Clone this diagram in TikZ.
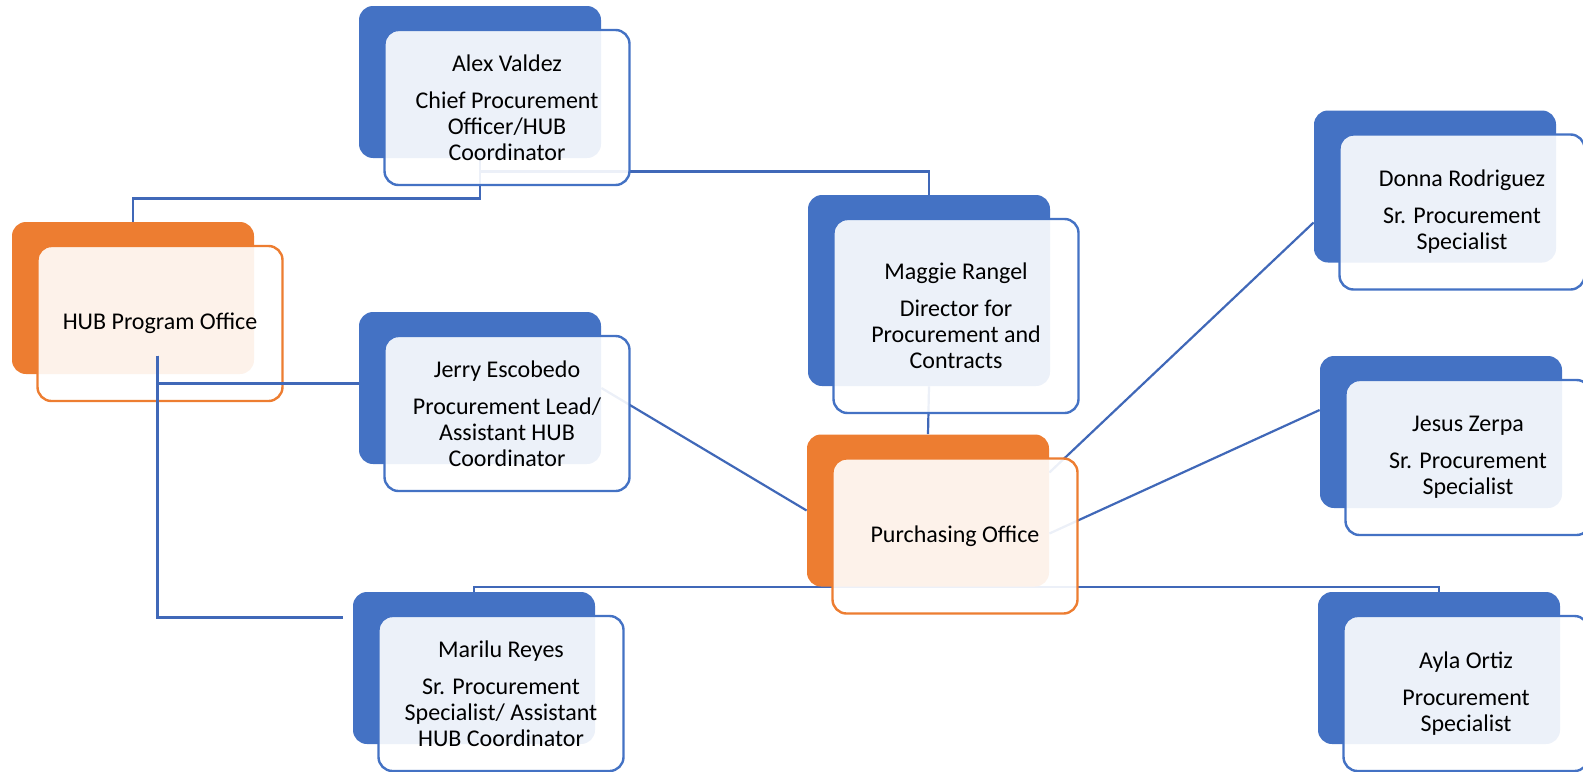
\documentclass[tikz,border=0pt]{standalone}
\usepackage{fontspec}
\setmainfont{Carlito}
\usetikzlibrary{backgrounds}
\definecolor{hubblue}{HTML}{4472C4}
\definecolor{hubline}{HTML}{4068B8}
\definecolor{huborange}{HTML}{ED7D31}

\begin{document}
\begin{tikzpicture}[x=0.5pt,y=-0.5pt,
		backbox/.style={rectangle,rounded corners=7pt,minimum width=121pt,minimum height=76pt,inner sep=0pt,fill=hubblue},
		frontbox/.style={rectangle,rounded corners=7pt,minimum width=122.5pt,minimum height=77.5pt,inner sep=0pt,draw=hubblue,line width=1.2pt,fill=white,fill opacity=0.9,text opacity=1,align=center,font=\fontsize{12}{13}\selectfont},
		conn/.style={draw=hubline,line width=1.1pt},
		hubconn/.style={draw=hubline,line width=1.5pt}]
			\useasboundingbox (0,0) rectangle (1583,771);
			\node[backbox] (alexb) at (480,82) {};
			\node[frontbox] (alexf) at ([shift={(27,25.5)}]alexb) {Alex Valdez\\[5.5pt]Chief Procurement\\Officer/HUB\\Coordinator};
			\node[backbox,fill=huborange] (hubb) at (133,298) {};
			\node[frontbox,draw=huborange] (hubf) at ([shift={(27,25.5)}]hubb) {HUB Program Office};
			\node[backbox] (jerryb) at (480,388) {};
			\node[frontbox] (jerryf) at ([shift={(27,25.5)}]jerryb) {Jerry Escobedo\\[5.5pt]Procurement Lead/\\Assistant HUB\\Coordinator};
			\node[backbox] (marilub) at (474,668) {};
			\node[frontbox] (mariluf) at ([shift={(27,25.5)}]marilub) {Marilu Reyes\\[5.5pt]Sr. Procurement\\Specialist/ Assistant\\HUB Coordinator};
			\node[backbox,minimum height=95.5pt] (maggieb) at (929,290.5) {};
			\node[frontbox,minimum height=97pt] (maggief) at ([shift={(27,25.5)}]maggieb) {Maggie Rangel\\[5.5pt]Director for\\Procurement and\\Contracts};
			\node[backbox,fill=huborange] (purchb) at (928,510.5) {};
			\node[frontbox,draw=huborange] (purchf) at ([shift={(27,25.5)}]purchb) {Purchasing Office};
			\node[backbox] (donnab) at (1435,186.5) {};
			\node[frontbox] (donnaf) at ([shift={(27,25.5)}]donnab) {Donna Rodriguez\\[5.5pt]Sr. Procurement\\Specialist};
			\node[backbox] (jesusb) at (1441,432) {};
			\node[frontbox] (jesusf) at ([shift={(27,25.5)}]jesusb) {Jesus Zerpa\\[5.5pt]Sr. Procurement\\Specialist};
			\node[backbox] (aylab) at (1439,668) {};
			\node[frontbox] (aylaf) at ([shift={(27,25.5)}]aylab) {Ayla Ortiz\\[5.5pt]Procurement\\Specialist};
			
			\begin{scope}[on background layer]
				\draw[conn] (alexb.south) -- ++(0,40) -| (hubb.north);
				\draw[conn] (alexb.south) ++(0,13) -| (maggieb.north);
				\draw[conn] (jerryb.east) -- (purchb.west);
				\draw[conn] (maggieb.south) -- (purchb.north);
				\draw[conn] ([yshift=19pt]purchb.east) -- ([yshift=-18pt]donnab.west);
				\draw[conn] ([yshift=-11.5pt]purchb.east) -- ([yshift=11pt]jesusb.west);
				\draw[conn] (marilub.north) |- (purchb.south) -| (aylab.north);
			\end{scope}
			\draw[hubconn] ([shift={(-1.5pt,-16pt)}]hubf.center) |- ([shift={(-5pt,-13pt)}]marilub.north west);
			\draw[hubconn] ([shift={(-1.5pt,-16pt)}]hubf.center) |- ([yshift=2.5pt]jerryb.west);
		\end{tikzpicture}
\end{document}
